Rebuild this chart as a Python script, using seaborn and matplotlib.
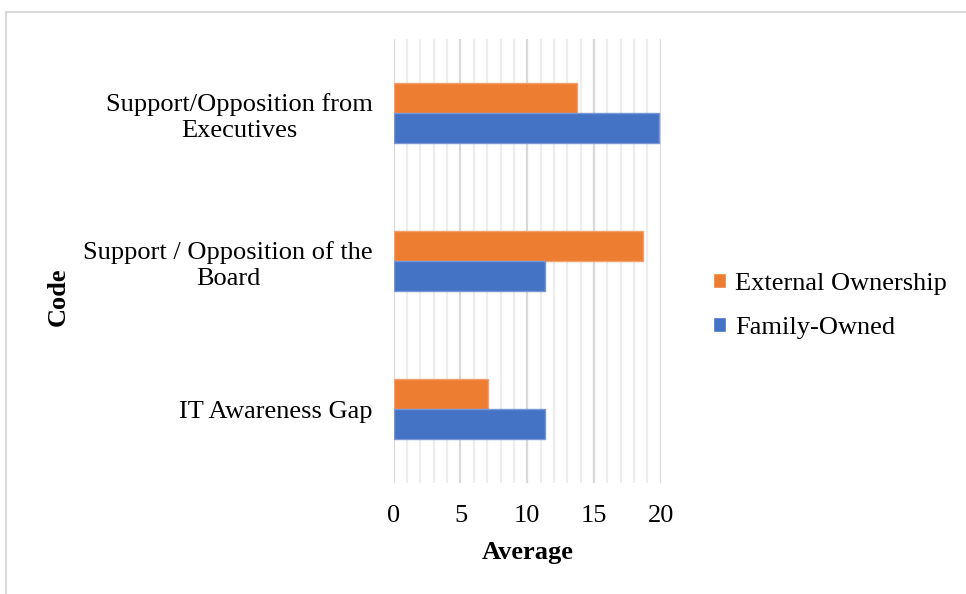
import matplotlib
matplotlib.use("Agg")
import matplotlib.pyplot as plt
from matplotlib.patches import Rectangle
from matplotlib.ticker import MultipleLocator
import seaborn as sns
import pandas as pd

# Data
codes = ["Support/Opposition from\nExecutives",
         "Support / Opposition of the\nBoard",
         "IT Awareness Gap"]
series = ["External Ownership", "Family-Owned"]
external_ownership = [13.7, 18.7, 7.1]
family_owned = [19.9, 11.3, 11.3]
x_ticks = [0, 5, 10, 15, 20]

df = pd.DataFrame({
    "Code": codes * 2,
    "Average": external_ownership + family_owned,
    "Ownership": [series[0]] * len(codes) + [series[1]] * len(codes),
})

sns.set_theme(style="white")
plt.rcParams["font.family"] = ["Liberation Serif", "DejaVu Serif"]
plt.rcParams["text.color"] = "#000000"
plt.rcParams["axes.labelcolor"] = "#000000"
plt.rcParams["xtick.color"] = "#000000"
plt.rcParams["ytick.color"] = "#000000"

FS = 19

fig = plt.figure(figsize=(9.66, 5.94), dpi=100)
ax = fig.add_axes([393.7 / 966, 1 - 483 / 594, 267 / 966, 444 / 594])

palette = {"External Ownership": "#ED7D31", "Family-Owned": "#4472C4"}
edges = {"External Ownership": "#F4A06E", "Family-Owned": "#7896D6"}

sns.barplot(data=df, x="Average", y="Code", hue="Ownership",
            order=codes, hue_order=series, palette=palette, saturation=1,
            orient="h", width=0.4, gap=0, ax=ax, legend=True,
            linewidth=1.0)
for patch_container, name in zip(ax.containers, series):
    for bar in patch_container:
        bar.set_edgecolor(edges[name])

ax.set_xlim(0, 20)
ax.set_ylim(2.5, -0.5)
ax.xaxis.set_major_locator(MultipleLocator(5))
ax.xaxis.set_minor_locator(MultipleLocator(1))
ax.set_xticks(x_ticks)
ax.set_xticklabels([str(t) for t in x_ticks])
ax.grid(which="major", axis="x", color="#D9D9D9", linewidth=1.6)
ax.grid(which="minor", axis="x", color="#EDEDED", linewidth=1.6)
ax.grid(which="major", axis="y", visible=False)
ax.set_axisbelow(True)
for s in ax.spines.values():
    s.set_visible(False)

ax.tick_params(axis="both", which="both", length=0)
ax.tick_params(axis="x", labelsize=FS, pad=16, labelcolor="#000000")
ax.tick_params(axis="y", labelsize=FS, pad=15, labelcolor="#000000")
for lbl in ax.get_yticklabels():
    lbl.set_multialignment("center")
    lbl.set_linespacing(1.25)

ax.set_xlabel("Average", fontsize=FS, fontweight="bold", labelpad=10,
              color="#000000")
ax.set_ylabel("Code", fontsize=FS, fontweight="bold", color="#000000")
ax.yaxis.set_label_coords(70 / 966, 0.5, transform=fig.transFigure)

handles, labels = ax.get_legend_handles_labels()
ax.legend_.remove()
leg = fig.legend(handles, labels, loc="center left",
                 bbox_to_anchor=(702 / 966, 1 - 306 / 594),
                 frameon=False, fontsize=FS, handlelength=0.5,
                 handleheight=0.5, handletextpad=0.35, labelspacing=0.85,
                 borderaxespad=0)
for t in leg.get_texts():
    t.set_color("#000000")

# Light chart-area outline
fig.patches.append(Rectangle((5.5 / 966, -0.2), 1.2, 1.2 - 12 / 594,
                             transform=fig.transFigure, fill=False,
                             edgecolor="#D9D9D9", linewidth=1.5))

fig.savefig("out.png", dpi=100)
